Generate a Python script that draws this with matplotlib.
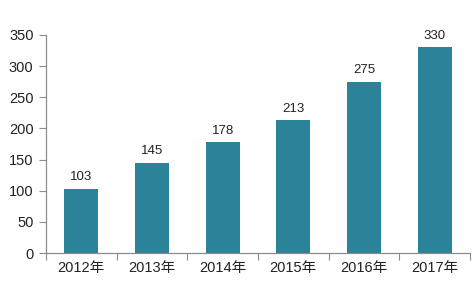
import numpy as np
import matplotlib.pyplot as plt

plt.rcParams['font.family'] = ['Liberation Sans', 'Noto Sans CJK SC', 'DejaVu Sans']

# 数据
years = ['2012年', '2013年', '2014年', '2015年', '2016年', '2017年']
values = [103, 145, 178, 213, 275, 330]

bar_color = '#2b8399'
axis_color = '#8c8c8c'

fig = plt.figure(figsize=(4.72, 2.86), dpi=100)
ax = fig.add_axes([0.0975, 0.115, 0.898, 0.763])

x = np.arange(len(years))
bars = ax.bar(x, values, width=0.48, color=bar_color, zorder=2)

for xi, v in zip(x, values):
    ax.text(xi, v + 9, str(v), ha='center', va='bottom', fontsize=9.5, color='#222222')

ax.set_xlim(-0.5, len(years) - 0.5)
ax.set_ylim(0, 350)
ax.set_yticks(np.arange(0, 351, 50))

# x 轴刻度在类别之间
ax.set_xticks(np.arange(-0.5, len(years), 1.0))
ax.set_xticklabels([])
ax.set_xticks(x, minor=True)
ax.set_xticklabels(years, minor=True)
ax.tick_params(axis='x', which='minor', length=0, pad=6, labelsize=10.5, labelcolor='#222222')
ax.tick_params(axis='x', which='major', length=5, color=axis_color, direction='out')
ax.tick_params(axis='y', length=5, color=axis_color, labelsize=10.5, labelcolor='#222222', pad=4)

for s in ['top', 'right']:
    ax.spines[s].set_visible(False)
for s in ['left', 'bottom']:
    ax.spines[s].set_color(axis_color)
    ax.spines[s].set_linewidth(0.9)

fig.savefig('out.png', dpi=100)
